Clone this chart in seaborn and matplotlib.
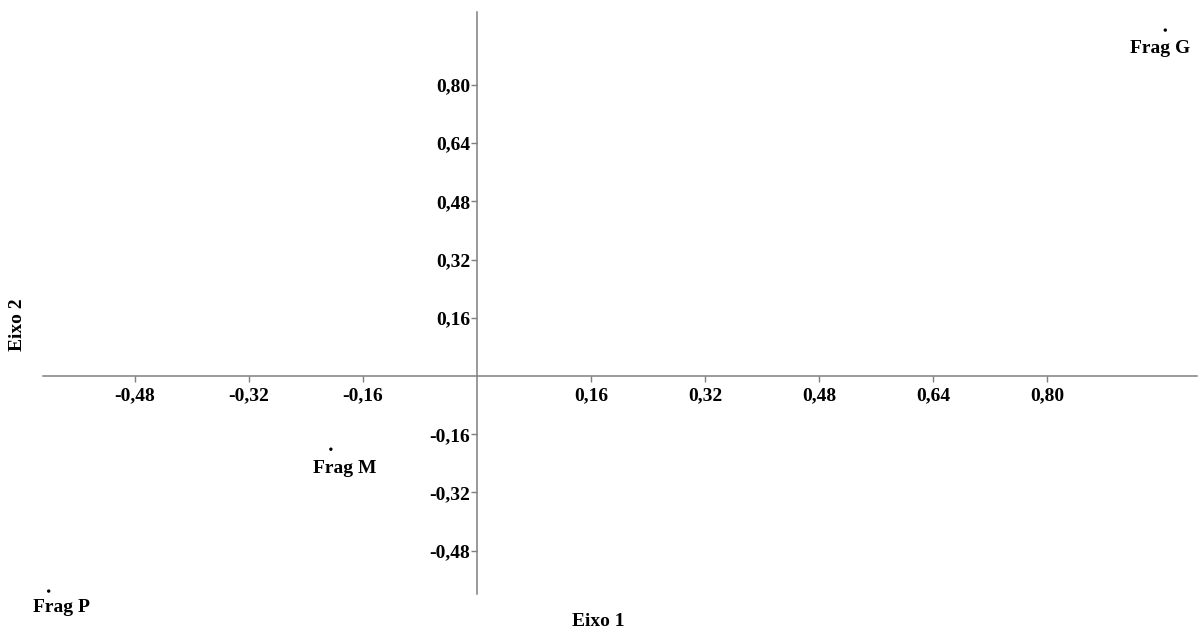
import matplotlib
matplotlib.use("Agg")
import matplotlib.pyplot as plt
import seaborn as sns
import pandas as pd
from matplotlib.ticker import FixedLocator, FixedFormatter

# ---- data ----
labels = ["Frag G", "Frag M", "Frag P"]
eixo1 = [0.966, -0.205, -0.601]
eixo2 = [0.951, -0.201, -0.591]

xticks = [-0.48, -0.32, -0.16, 0.16, 0.32, 0.48, 0.64, 0.80]
xticklabels = ["-0,48", "-0,32", "-0,16", "0,16", "0,32", "0,48", "0,64", "0,80"]
yticks = [-0.48, -0.32, -0.16, 0.16, 0.32, 0.48, 0.64, 0.80]
yticklabels = ["-0,48", "-0,32", "-0,16", "0,16", "0,32", "0,48", "0,64", "0,80"]

df = pd.DataFrame({"Eixo 1": eixo1, "Eixo 2": eixo2, "label": labels})

sns.set_theme(style="white")
plt.rcParams["font.family"] = ["Liberation Serif", "DejaVu Serif"]
plt.rcParams["font.weight"] = "bold"

fig = plt.figure(figsize=(12.03, 6.32), dpi=100)
ax = fig.add_axes([43 / 1203, 38 / 632, 1154 / 1203, 582 / 632])

sns.scatterplot(data=df, x="Eixo 1", y="Eixo 2", ax=ax, color="black",
                s=6, edgecolor="none", legend=False)

ax.set_xlim(-0.609, 1.0105)
ax.set_ylim(-0.599, 1.0007)

# centered spines
for side in ["top", "right"]:
    ax.spines[side].set_visible(False)
ax.spines["left"].set_position(("data", 0))
ax.spines["bottom"].set_position(("data", 0))
for side in ["left", "bottom"]:
    ax.spines[side].set_color("#7f7f7f")
    ax.spines[side].set_linewidth(1.1)

ax.xaxis.set_major_locator(FixedLocator(xticks))
ax.xaxis.set_major_formatter(FixedFormatter(xticklabels))
ax.yaxis.set_major_locator(FixedLocator(yticks))
ax.yaxis.set_major_formatter(FixedFormatter(yticklabels))

ax.tick_params(axis="x", direction="out", length=4, width=1, color="#7f7f7f",
               pad=4, labelsize=14, bottom=True)
ax.tick_params(axis="y", direction="out", length=4.5, width=1, color="#7f7f7f",
               pad=0.5, labelsize=14, left=True)
for t in ax.get_xticklabels() + ax.get_yticklabels():
    t.set_fontweight("bold")
    t.set_color("black")

ax.set_xlabel("Eixo 1", fontsize=14, fontweight="bold", color="black")
ax.set_ylabel("Eixo 2", fontsize=14, fontweight="bold", color="black")
ax.xaxis.set_label_coords((598 - 43) / 1154, (594 - 622) / 582)
ax.yaxis.set_label_coords((18 - 43) / 1154, (594 - 325) / 582)
ax.xaxis.label.set_va("center")
ax.yaxis.label.set_va("center")

offsets = {"Frag G": (-4, -13), "Frag M": (10, -14), "Frag P": (9, -12)}
for lab, x, y in zip(labels, eixo1, eixo2):
    ax.annotate(lab, (x, y), xytext=offsets[lab], textcoords="offset points",
                ha="center", va="center", fontsize=14, fontweight="bold",
                color="black", annotation_clip=False)

ax.grid(False)
fig.savefig("out.png", dpi=100, facecolor="white")
